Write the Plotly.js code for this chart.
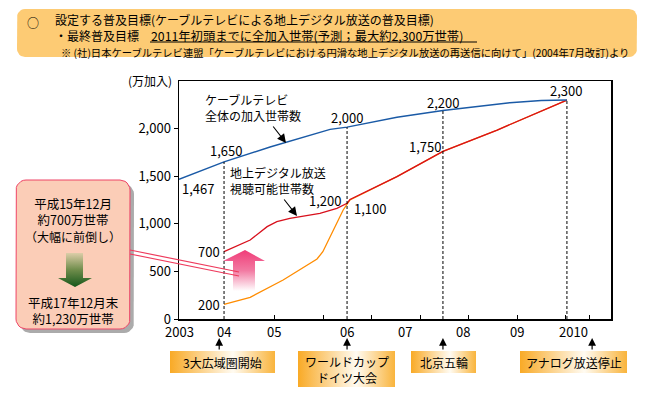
<!DOCTYPE html>
<html><head><meta charset="utf-8">
<script src="https://cdn.plot.ly/plotly-3.0.1.min.js"></script>
<style>html,body{margin:0;padding:0;background:#fff}#chart{width:650px;height:397px}</style>
</head><body><div id="chart"></div>
<script>
// ---------- data ----------
// ケーブルテレビ全体の加入世帯数 (万加入)
const cableX = [2003.02, 2003.95, 2004.90, 2005.73, 2006.14, 2006.49, 2007.52, 2008.47, 2009.85, 2010.50, 2011.03];
const cableY = [1467, 1650, 1807, 1933, 1992, 2015, 2119, 2190, 2272, 2295, 2300];
// 地上デジタル放送視聴可能世帯数 (前倒し後)
const viewX = [2003.95, 2004.49, 2004.84, 2005.04, 2005.31, 2005.52, 2005.93, 2006.28, 2006.49, 2006.55, 2007.52, 2008.47, 2009.59, 2011.03];
const viewY = [707, 830, 970, 1022, 1057, 1075, 1110, 1163, 1215, 1255, 1495, 1760, 1985, 2300];
// 当初見込み (orange)
const planX = [2003.95, 2004.49, 2005.17, 2005.87, 2005.99, 2006.20, 2006.41, 2006.55, 2007.52, 2008.47, 2009.59, 2011.03];
const planY = [154, 228, 410, 630, 707, 935, 1145, 1250, 1495, 1760, 1985, 2300];

// milestones (dashed lines) and events
const milestoneX = [2003.95, 2006.49, 2008.47, 2011.03];
const milestoneTop = [1650, 2015, 2190, 2300];
const eventX = [2003.85, 2006.49, 2008.47, 2011.55];
const eventNames = ['3大広域圏開始', 'ワールドカップ<br>ドイツ大会', '北京五輪', 'アナログ放送停止'];

// value labels
const labelText = ['1,467', '1,650', '2,000', '2,200', '2,300', '1,750', '1,200', '1,100', '700', '200'];
const labelX = [2003.02, 2003.95, 2006.49, 2008.47, 2011.03, 2008.47, 2006.49, 2006.49, 2003.95, 2003.95];
const labelY = [1467, 1650, 2015, 2190, 2300, 1760, 1215, 1215, 707, 154];

// axes
const xTickMarks = [2005, 2006, 2007, 2008, 2009, 2010, 2011, 2011.5];
const xLabelText = ['2003', '04', '05', '06', '07', '08', '09', '2010'];
const xLabelPos = [2003.02, 2003.95, 2004.98, 2006.49, 2007.69, 2008.88, 2010.0, 2011.16];
const yTickVals = [0, 500, 1000, 1500, 2000];
const yTickText = ['0', '500', '1,000', '1,500', '2,000'];

// ---------- styling / layout ----------
const FONT = "'Noto Sans CJK JP', 'Noto Sans', sans-serif";
const W = 650, H = 397;
const PL = 179, PR = 611, PT = 81, PB = 319;

const labelStyle = [
  {xa:'left', xs:1, ys:-9}, {xa:'center', xs:2, ys:11}, {xa:'center', xs:0, ys:10},
  {xa:'center', xs:0, ys:8}, {xa:'center', xs:-1, ys:10}, {xa:'right', xs:0, ys:5},
  {xa:'right', xs:-4, ys:3}, {xa:'left', xs:5, ys:-5}, {xa:'right', xs:-2, ys:0},
  {xa:'right', xs:-2, ys:0}
];

function rrect(x0, y0, x1, y1, r) {
  const xs = [], ys = [];
  const corners = [[x1 - r, y0 + r, -90], [x1 - r, y1 - r, 0], [x0 + r, y1 - r, 90], [x0 + r, y0 + r, 180]];
  corners.forEach(c => {
    for (let k = 0; k <= 6; k++) {
      const a = (c[2] + k * 15) * Math.PI / 180;
      xs.push(c[0] + r * Math.cos(a)); ys.push(c[1] + r * Math.sin(a));
    }
  });
  xs.push(xs[0]); ys.push(ys[0]);
  return {x: xs, y: ys};
}
function deco(pts, extra) {
  return Object.assign({type:'scatter', mode:'lines', x:pts.x, y:pts.y, xaxis:'x2', yaxis:'y2',
    fill:'toself', hoverinfo:'skip', showlegend:false, line:{width:0, color:'rgba(0,0,0,0)'}}, extra);
}
function poly(arr) { return {x: arr.map(p => p[0]).concat([arr[0][0]]), y: arr.map(p => p[1]).concat([arr[0][1]])}; }

const traces = [
  {type:'scatter', mode:'lines', x:planX, y:planY, line:{color:'#FF8C00', width:1.3}, hoverinfo:'skip', showlegend:false},
  {type:'scatter', mode:'lines', x:viewX, y:viewY, line:{color:'#D8101C', width:1.3}, hoverinfo:'skip', showlegend:false},
  {type:'scatter', mode:'lines', x:cableX, y:cableY, line:{color:'#1A5AA6', width:1.4}, hoverinfo:'skip', showlegend:false},
  // header box
  deco(rrect(17, 9, 637, 57, 8), {fillcolor:'#FDCB74'}),
  // left box shadow + box
  deco(rrect(20, 184, 134, 333, 10), {fillcolor:'#ABABAB'}),
  deco(rrect(16, 180, 130, 329, 10), {fillcolor:'#FBCDB7', line:{width:1, color:'#EE4466'}}),
  // green down arrow
  deco(poly([[66,253],[83,253],[83,278],[92,278],[75,287],[58,278],[66,278]]),
    {fillgradient:{type:'vertical', start:253, stop:287, colorscale:[[0,'#DCCDA8'],[0.5,'#6E8C4A'],[1,'#15561A']]}}),
  // pink up arrow
  deco(poly([[245,250],[265,261],[255,261],[255,291],[233,291],[233,261],[223,261]]),
    {fillgradient:{type:'vertical', start:250, stop:291, colorscale:[[0,'#F03C78'],[0.5,'#F27AA2'],[1,'#FFFFFF']]}})
];
// event boxes
const evBoxes = [[170,351,275,373],[298,351,395,387],[411,351,476,373],[520,351,627,373]];
evBoxes.forEach(b => {
  traces.push(deco(poly([[b[0],b[1]],[b[2],b[1]],[b[2],b[3]],[b[0],b[3]]]),
    {fillgradient:{type:'horizontal', start:b[0], stop:b[2], colorscale:[[0,'#F9AA26'],[0.6,'#FFFBF2'],[1,'#F9B43C']]}}));
});

const ann = [];
// value labels (data coords)
labelText.forEach((t, i) => {
  const s = labelStyle[i];
  ann.push({xref:'x', yref:'y', x:labelX[i], y:labelY[i], text:t, showarrow:false,
    xanchor:s.xa, yanchor:'middle', xshift:s.xs, yshift:s.ys, font:{size:13, color:'#000'}});
});
// x labels
xLabelText.forEach((t, i) => {
  ann.push({xref:'x', yref:'y2', x:xLabelPos[i], y:331.5, text:t, showarrow:false, xanchor:'center', yanchor:'middle', font:{size:13}});
});
// event arrows + texts
const evCenters = [[222.5,362],[346.5,369],[443.5,362],[573.5,362]];
eventX.forEach((x, i) => {
  ann.push({xref:'x', yref:'y2', x:x, y:338, ax:0, ay:13, text:'', showarrow:true, arrowhead:2, arrowsize:1.3, arrowwidth:1.2, arrowcolor:'#000'});
  ann.push({xref:'x2', yref:'y2', x:evCenters[i][0], y:evCenters[i][1], text:eventNames[i], showarrow:false,
    xanchor:'center', yanchor:'middle', font:{size:12}});
});
// pixel-placed texts
const px = (x, y, text, xa, size, extra) => Object.assign({xref:'x2', yref:'y2', x:x, y:y, text:text, showarrow:false, xanchor:xa, yanchor:'middle', align:xa === 'left' ? 'left' : 'center', font:{size:size, color:'#000'}}, extra || {});
ann.push(px(33, 22, '○', 'center', 12));
ann.push(px(53, 28, '設定する普及目標(ケーブルテレビによる地上デジタル放送の普及目標)<br>・最終普及目標　<span style="font-size:12.3px">2011年初頭までに全加入世帯(予測；最大約2,300万世帯)</span>', 'left', 12));
ann.push(px(59, 52, '※ (社)日本ケーブルテレビ連盟「ケーブルテレビにおける円滑な地上デジタル放送の再送信に向けて」(2004年7月改訂)より', 'left', 10.3));
ann.push(px(174, 80, '(万加入)', 'right', 12));
ann.push(px(203, 107.5, 'ケーブルテレビ<br>全体の加入世帯数', 'left', 12));
ann.push(px(228, 180.5, '地上デジタル放送<br>視聴可能世帯数', 'left', 12));
ann.push(px(73, 219.5, '平成15年12月<br>約700万世帯<br><span style="font-size:12px">（大幅に前倒し）</span>', 'center', 12.5));
ann.push(px(73, 310.5, '平成17年12月末<br>約1,230万世帯', 'center', 12.5));
// curve pointer arrows
ann.push({xref:'x2', yref:'y2', x:286, y:143, ax:-14, ay:-18, text:'', showarrow:true, arrowhead:2, arrowsize:1.6, arrowwidth:1.1, arrowcolor:'#000'});
ann.push({xref:'x2', yref:'y2', x:297, y:216, ax:-14, ay:-18, text:'', showarrow:true, arrowhead:2, arrowsize:1.6, arrowwidth:1.1, arrowcolor:'#000'});

const shapes = [];
milestoneX.forEach((x, i) => {
  shapes.push({type:'line', xref:'x', yref:'y', x0:x, x1:x, y0:0, y1:milestoneTop[i], line:{color:'#000', width:1, dash:'3px,2px'}});
});
shapes.push({type:'line', xref:'x2', yref:'y2', x0:150, x1:477, y0:42, y1:42, line:{color:'#000', width:1}});
shapes.push({type:'line', xref:'x2', yref:'y2', x0:130, y0:250, x1:239, y1:272, line:{color:'#EE3A5C', width:1.2}});
shapes.push({type:'line', xref:'x2', yref:'y2', x0:130, y0:254, x1:239, y1:276, line:{color:'#EE3A5C', width:1.2}});

const layout = {
  width: W, height: H,
  margin: {l:0, r:0, t:0, b:0},
  paper_bgcolor: '#ffffff', plot_bgcolor: 'rgba(0,0,0,0)',
  font: {family: FONT, size: 12, color: '#000'},
  showlegend: false,
  xaxis: {domain:[PL / W, PR / W], range:[2003.02, 2011.94], tickvals:xTickMarks, ticks:'inside', ticklen:4,
    tickcolor:'#000', tickwidth:1, showticklabels:false, showline:true, linecolor:'#000', linewidth:1.5,
    mirror:true, showgrid:false, zeroline:false, anchor:'y', fixedrange:true},
  yaxis: {domain:[(H - PB) / H, (H - PT) / H], range:[0, 2500], tickvals:yTickVals, ticktext:yTickText,
    ticks:'outside', ticklen:4, tickcolor:'#000', tickwidth:1, tickfont:{size:13, color:'#000'},
    showline:true, linecolor:'#000', linewidth:1.5, mirror:true, showgrid:false, zeroline:false, anchor:'x', fixedrange:true},
  xaxis2: {domain:[0, 1], range:[0, W], visible:false, anchor:'y2', fixedrange:true},
  yaxis2: {domain:[0, 1], range:[H, 0], visible:false, anchor:'x2', fixedrange:true},
  annotations: ann,
  shapes: shapes
};
Plotly.newPlot('chart', traces, layout, {displayModeBar:false, staticPlot:true});
</script>
</body></html>
